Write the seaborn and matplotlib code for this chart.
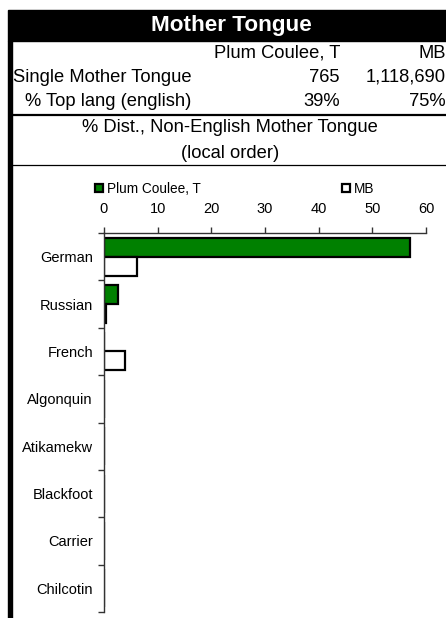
import pandas as pd
import matplotlib.pyplot as plt
import seaborn as sns
from matplotlib.patches import Rectangle, Patch
from matplotlib.lines import Line2D

# Datos
languages = ["German", "Russian", "French", "Algonquin", "Atikamekw",
             "Blackfoot", "Carrier", "Chilcotin"]
plum_coulee = [57.0, 2.7, 0.0, 0.0, 0.0, 0.0, 0.0, 0.0]
mb = [6.1, 0.4, 4.0, 0.0, 0.0, 0.0, 0.0, 0.0]
series_names = ["Plum Coulee, T", "MB"]
x_ticks = [0, 10, 20, 30, 40, 50, 60]

header_cols = ["Plum Coulee, T", "MB"]
single_mt = ["765", "1,118,690"]
top_lang = ["39%", "75%"]

df = pd.DataFrame({
    "lang": languages * 2,
    "pct": plum_coulee + mb,
    "area": [series_names[0]] * len(languages) + [series_names[1]] * len(languages),
})

sns.set_style("white")
plt.rcParams['font.family'] = ['Liberation Sans', 'DejaVu Sans']
plt.rcParams['text.color'] = 'black'
plt.rcParams['xtick.color'] = 'black'
plt.rcParams['ytick.color'] = 'black'

W, H = 446, 618
fig = plt.figure(figsize=(W / 100, H / 100), dpi=100)

def fx(px):
    return px / W

def fy(py):
    return 1 - py / H

# Cabecera
fig.patches.append(Rectangle((fx(8), fy(41)), fx(438), 31 / H, transform=fig.transFigure,
                             color="black", zorder=1))
fig.patches.append(Rectangle((fx(8), fy(618)), fx(3.5), (618 - 41) / H, transform=fig.transFigure,
                             color="black", zorder=1))
fig.add_artist(Line2D([fx(10), 1], [fy(115), fy(115)], color="black", lw=1.6))
fig.add_artist(Line2D([fx(10), 1], [fy(165), fy(165)], color="black", lw=0.9))

fig.text(fx(231), fy(25.5), "Mother Tongue", color="white", fontsize=16.2, fontweight="bold",
         ha="center", va="center")
hs = 13.2
fig.text(fx(340), fy(53), header_cols[0], fontsize=hs, ha="right", va="center")
fig.text(fx(446), fy(53), header_cols[1], fontsize=hs, ha="right", va="center")
fig.text(fx(13), fy(77), "Single Mother Tongue", fontsize=hs, ha="left", va="center")
fig.text(fx(340), fy(77), single_mt[0], fontsize=hs, ha="right", va="center")
fig.text(fx(446), fy(77), single_mt[1], fontsize=hs, ha="right", va="center")
fig.text(fx(108), fy(102), "% Top lang (english)", fontsize=hs, ha="center", va="center")
fig.text(fx(340), fy(102), top_lang[0], fontsize=hs, ha="right", va="center")
fig.text(fx(446), fy(102), top_lang[1], fontsize=hs, ha="right", va="center")
fig.text(fx(230), fy(128), "% Dist., Non-English Mother Tongue", fontsize=hs, ha="center", va="center")
fig.text(fx(230), fy(153), "(local order)", fontsize=hs, ha="center", va="center")

# Gráfico de barras
ax = fig.add_axes([fx(104), fy(612), fx(426 - 104), (612 - 233) / H])
sns.barplot(data=df, y="lang", x="pct", hue="area", orient="h", ax=ax,
            palette={series_names[0]: "#008000", series_names[1]: "white"},
            saturation=1, edgecolor="black", linewidth=1.6, width=0.8, legend=False)

ax.set_xlim(0, 60)
ax.set_ylim(len(languages) - 0.5, -0.5)
ax.xaxis.tick_top()
ax.set_xticks(x_ticks)
ax.set_xticklabels([str(t) for t in x_ticks], fontsize=10.5)
ax.set_yticks([i + 0.5 for i in range(-1, len(languages))], minor=True)
ax.set_yticks(range(len(languages)))
ax.set_yticklabels(languages, fontsize=10.5)
ax.tick_params(axis="y", which="major", left=False, length=0, pad=8)
ax.tick_params(axis="y", which="minor", left=True, length=4, width=1, color="#333333", direction="out")
ax.tick_params(axis="x", which="major", top=True, length=4, width=1, color="#333333", direction="out", pad=8)
ax.set_xlabel("")
ax.set_ylabel("")
for side in ["right", "bottom"]:
    ax.spines[side].set_visible(False)
for side in ["top", "left"]:
    ax.spines[side].set_color("#333333")
    ax.spines[side].set_linewidth(1)

# Leyenda
handles = [Patch(facecolor="#008000", edgecolor="black", linewidth=1.6, label=series_names[0]),
           Patch(facecolor="white", edgecolor="black", linewidth=1.6, label=series_names[1])]
fig.legend(handles=handles, loc="center left", bbox_to_anchor=(fx(83), fy(189)), ncol=2,
           frameon=False, fontsize=9.8, handlelength=0.55, handleheight=0.55,
           handletextpad=0.3, columnspacing=10.4)

fig.savefig("out.png", dpi=100)
